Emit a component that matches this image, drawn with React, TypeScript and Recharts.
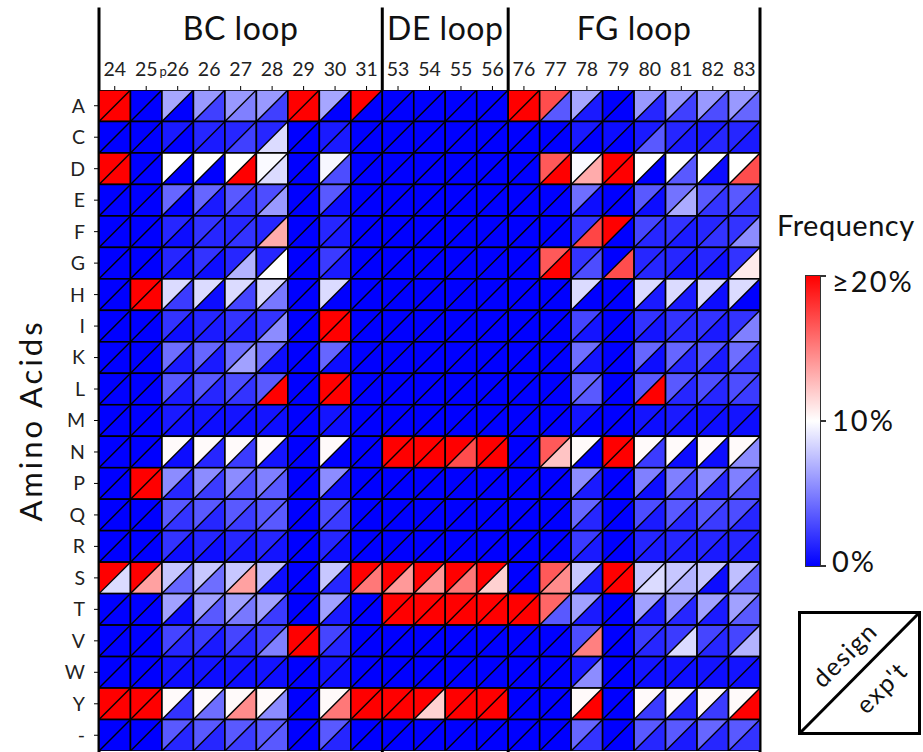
import React from "react";
import {
  ScatterChart,
  Scatter,
  XAxis,
  YAxis,
  ReferenceLine,
  ReferenceArea,
} from "recharts";

// residue positions along the three loops
const residues = [
  "24", "25", "p26", "26", "27", "28", "29", "30", "31",
  "53", "54", "55", "56",
  "76", "77", "78", "79", "80", "81", "82", "83",
];

const aminoAcids = [
  "A", "C", "D", "E", "F", "G", "H", "I", "K", "L", "M",
  "N", "P", "Q", "R", "S", "T", "V", "W", "Y", "-",
];

const loops = [
  { name: "BC loop", start: 0, end: 9 },
  { name: "DE loop", start: 9, end: 13 },
  { name: "FG loop", start: 13, end: 21 },
];

// frequency (%) in the designed library, one row per amino acid
const designFreq = [
  [20, 0, 6.5, 6, 6, 6, 20, 6.5, 20, 0, 0, 0, 0, 20, 17, 6.5, 0, 6, 6, 6, 6],
  [0, 0, 1, 1.5, 1.5, 1.5, 0, 1, 0, 0, 0, 0, 0, 0, 0, 1, 0.5, 1, 1.5, 1, 1.5],
  [20, 0, 10, 10, 10, 9.8, 0, 9.7, 0, 0, 0, 0, 0, 0, 16.5, 9.8, 20, 10, 10, 10, 10],
  [0, 0, 4, 4, 3.5, 3, 0, 3.5, 0, 0, 0, 0, 0, 0, 0, 4.3, 0, 3.5, 4.5, 3.5, 3.5],
  [0, 0, 1.5, 2, 1.5, 1.5, 0, 1.5, 0, 0, 0, 0, 0, 0, 0, 2, 20, 2.7, 2, 1.5, 2],
  [0, 0, 1.5, 2, 1.5, 1.5, 0, 2.3, 0, 0, 0, 0, 0, 0, 16.5, 2, 0, 1.5, 1.5, 1.5, 2],
  [0, 20, 8.6, 8.6, 8.6, 8.6, 0, 8.6, 0, 0, 0, 0, 0, 0, 0, 8.6, 0, 8.6, 8.6, 8.6, 8.6],
  [0, 0, 2, 1.5, 2, 2, 0, 20, 0, 0, 0, 0, 0, 0, 0, 2.7, 0, 2, 2, 2, 2],
  [0, 0, 4.3, 4, 4.3, 4.3, 0, 4, 0, 0, 0, 0, 0, 0, 0, 4.3, 0, 4, 4, 3.5, 4.3],
  [0, 0, 3.5, 3.5, 3, 3.5, 0, 20, 0, 0, 0, 0, 0, 0, 0, 4, 0, 3.5, 3.5, 3, 3],
  [0, 0, 1, 0.8, 0.8, 0.8, 0, 0.8, 0, 0, 0, 0, 0, 0, 0, 0.8, 0, 0.8, 1, 0.8, 0.8],
  [0, 0, 10.2, 10.2, 10.2, 10.2, 0, 10.2, 0, 20, 20, 20, 20, 0, 16.5, 10.2, 20, 10.2, 10.2, 10.2, 10.2],
  [0, 20, 5.5, 5.5, 5.5, 5, 0, 5.5, 0, 0, 0, 0, 0, 0, 0, 5.5, 0, 5, 5, 5.5, 5],
  [0, 0, 3.5, 3.5, 3.5, 3.5, 0, 3, 0, 0, 0, 0, 0, 0, 0, 4, 0, 3, 3.5, 3.5, 3],
  [0, 0, 2, 1.5, 1.5, 1.5, 0, 1.5, 0, 0, 0, 0, 0, 0, 0, 2.3, 0, 1.5, 1.5, 1.5, 1.5],
  [20, 20, 7.8, 7.8, 7.8, 7.5, 0, 7.8, 20, 20, 20, 20, 20, 0, 16.5, 7.8, 20, 7.8, 7.8, 7.8, 7.5],
  [0, 0, 6.3, 6.3, 6.3, 6.3, 0, 6.3, 0, 20, 20, 20, 20, 20, 16, 6.3, 0, 6.3, 6, 6.3, 6.3],
  [0, 0, 2.7, 2.3, 2.7, 2.7, 20, 2.7, 0, 0, 0, 0, 0, 0, 0, 3, 0, 2.3, 2.3, 2.7, 2.7],
  [0, 0, 0.8, 0.8, 0.8, 0.8, 0, 0.8, 0, 0, 0, 0, 0, 0, 0, 1, 0, 0.8, 0.8, 0.8, 0.8],
  [20, 20, 10.2, 10.2, 10.2, 10.2, 0, 10.2, 20, 20, 20, 20, 20, 0, 0, 10.2, 0, 10.2, 10.2, 10.2, 10.2],
  [0, 0, 3.5, 3.5, 3.5, 3.5, 0, 3.5, 0, 0, 0, 0, 0, 0, 0, 4, 0, 3.5, 3.5, 4, 3.5],
];

// frequency (%) observed experimentally
const exptFreq = [
  [20, 0, 0, 2.5, 5, 2.5, 20, 0, 0, 0, 0, 0, 0, 20, 3.5, 1, 0, 1.5, 2.5, 3, 4],
  [0, 0, 0, 1, 2.5, 8.6, 0, 1, 0, 0, 0, 0, 0, 0, 0, 0, 0, 3.5, 1, 1.5, 1],
  [20, 0, 0, 0, 20, 8.6, 0, 3, 0, 0, 0, 0, 0, 0, 20, 13.3, 20, 0, 3.5, 0.5, 17],
  [0, 0, 0, 1, 2, 6, 0, 0.5, 0, 0, 0, 0, 0, 0, 0, 0.5, 0, 0.5, 6.7, 2, 2],
  [0, 0, 0.5, 1.5, 2, 13.3, 0, 1, 0, 0, 0, 0, 0, 0, 0, 17.3, 0, 1.5, 1, 2, 5.5],
  [0, 0, 0.5, 0.5, 7, 10, 0, 1, 0, 0, 0, 0, 0, 0, 20, 3, 17, 1.5, 0.5, 0.5, 10.8],
  [0, 20, 2.3, 0.5, 2.7, 4.7, 0, 0, 0, 0, 0, 0, 0, 0, 0, 0, 0, 1, 1, 0.5, 0],
  [0, 0, 0.5, 1, 1, 5.5, 0, 20, 0, 0, 0, 0, 0, 0, 0, 0.8, 0, 0.8, 1.5, 1, 5],
  [0, 0, 1, 1, 6.3, 0.5, 0, 0.5, 0, 0, 0, 0, 0, 0, 0, 0.8, 0, 0.5, 1.5, 1, 2],
  [0, 0, 1, 1.5, 2, 20, 0, 20, 0, 0, 0, 0, 0, 0, 0, 3.5, 0, 20, 1.5, 1.5, 2.3],
  [0, 0, 0.5, 0.5, 0.5, 0.5, 0, 0.5, 0, 0, 0, 0, 0, 0, 0, 0, 0, 0.5, 0.5, 0.5, 0.5],
  [0, 0, 0.5, 1.5, 2.3, 0.8, 0, 0, 0, 20, 20, 17, 20, 0, 12.3, 0, 20, 2.3, 0.5, 0.5, 5.5],
  [0, 20, 1.5, 2.3, 3, 3.5, 0, 0.5, 0, 0, 0, 0, 0, 0, 0, 1, 0, 0.5, 2.3, 1.5, 3],
  [0, 0, 2, 1.5, 2.3, 3.5, 0, 2.3, 0, 0, 0, 0, 0, 0, 0, 1.5, 0, 1, 1.5, 2.3, 1.5],
  [0, 0, 0.5, 0.5, 0.8, 0.8, 0, 0.5, 0, 0, 0, 0, 0, 0, 0, 1, 0, 1, 1, 1, 1],
  [8.6, 13.7, 4, 4.3, 13.7, 0.5, 0, 1.5, 15.3, 14, 14, 15.3, 11.8, 0, 14.5, 1, 20, 8.6, 7, 0.5, 3.5],
  [0, 0, 0.5, 3.5, 4.7, 2.3, 0, 1, 0, 20, 20, 20, 20, 20, 3.5, 1, 0, 1, 1.5, 1, 3.5],
  [0, 0, 1.5, 1, 1.5, 5, 20, 1.5, 0, 0, 0, 0, 0, 0, 0, 15, 0, 1.5, 8.6, 1.5, 7],
  [0, 0, 0.5, 0.5, 0.5, 0.5, 0, 0.5, 0, 0, 0, 0, 0, 0, 0, 5.5, 0, 0.5, 0.5, 0.5, 0.5],
  [20, 20, 2, 4.3, 14.5, 5.5, 0, 15.3, 20, 20, 11.8, 20, 20, 0, 0, 20, 0, 2.3, 1.5, 2.3, 20],
  [0, 0, 1.5, 1.5, 2.3, 3.5, 0, 1.5, 0, 0, 0, 0, 0, 0, 0, 2, 0, 1.5, 1, 1.5, 2],
];

const legendLabels = ["≥20%", "10%", "0%"];

const FONT = "Lato, 'Noto Sans', sans-serif";
const W = 923;
const H = 752;
const LEFT = 99;
const TOP = 90;
const RIGHT = 163;
const BOTTOM = 1;
const CELL_W = (W - LEFT - RIGHT) / residues.length;
const CELL_H = (H - TOP - BOTTOM) / aminoAcids.length;

// blue (0%) -> white (10%) -> red (>=20%)
function freqColor(v: number) {
  const t = Math.max(0, Math.min(v, 20)) / 20;
  if (t <= 0.5) {
    const k = Math.round(255 * t * 2);
    return `rgb(${k},${k},255)`;
  }
  const k = Math.round(255 * (1 - (t - 0.5) * 2));
  return `rgb(255,${k},${k})`;
}

const cellData = aminoAcids.flatMap((aa, r) =>
  residues.map((res, c) => ({
    x: c + 0.5,
    y: r + 0.5,
    aa,
    res,
    design: designFreq[r][c],
    expt: exptFreq[r][c],
  }))
);

function SplitCell(props: any) {
  const { cx, cy, payload } = props;
  const x0 = cx - CELL_W / 2;
  const x1 = cx + CELL_W / 2;
  const y0 = cy - CELL_H / 2;
  const y1 = cy + CELL_H / 2;
  return (
    <g>
      <polygon points={`${x0},${y0} ${x1},${y0} ${x0},${y1}`} fill={freqColor(payload.design)} />
      <polygon points={`${x1},${y0} ${x1},${y1} ${x0},${y1}`} fill={freqColor(payload.expt)} />
      <rect x={x0} y={y0} width={CELL_W} height={CELL_H} fill="none" stroke="#000" strokeWidth={1.6} />
      <line x1={x0} y1={y1} x2={x1} y2={y0} stroke="#000" strokeWidth={1.4} />
    </g>
  );
}

function ResidueTick(props: any) {
  const { x, y, payload } = props;
  const label = residues[Math.floor(payload.value)];
  if (label.startsWith("p")) {
    return (
      <g>
        <text x={x - 11} y={y} textAnchor="end" fontSize={13} fill="#222" fontFamily={FONT}>p</text>
        <text x={x} y={y} textAnchor="middle" fontSize={19.5} fill="#222" fontFamily={FONT}>{label.slice(1)}</text>
      </g>
    );
  }
  return (
    <text x={x} y={y} textAnchor="middle" fontSize={19.5} fill="#222" fontFamily={FONT}>
      {label}
    </text>
  );
}

function ColorLegend() {
  const barTop = 275;
  const barH = 290;
  return (
    <>
      <div style={{ position: "absolute", left: 777, top: 207, fontSize: 29, letterSpacing: 0.5, color: "#111" }}>
        Frequency
      </div>
      <div
        style={{
          position: "absolute",
          left: 805,
          top: barTop,
          width: 14,
          height: barH,
          border: "1px solid #333",
          background: "linear-gradient(to bottom, rgb(255,0,0), rgb(255,255,255), rgb(0,0,255))",
        }}
      />
      {legendLabels.map((lab, i) => {
        const y = barTop + 1 + (barH * i) / (legendLabels.length - 1);
        return (
          <React.Fragment key={lab}>
            <div style={{ position: "absolute", left: 820, top: y - 1, width: 6, height: 1.5, background: "#333" }} />
            <div
              style={{
                position: "absolute",
                left: 832,
                top: y - 19 + (i === 0 ? 6 : i === 2 ? -4 : 0),
                fontSize: 29,
                letterSpacing: 2,
                color: "#111",
              }}
            >
              {lab}
            </div>
          </React.Fragment>
        );
      })}
      <svg style={{ position: "absolute", left: 797, top: 610 }} width={126} height={127}>
        <rect x={2.5} y={2.5} width={120} height={121} fill="#fff" stroke="#000" strokeWidth={3} />
        <line x1={2.5} y1={123.5} x2={122.5} y2={2.5} stroke="#000" strokeWidth={3} />
        <text x={54} y={51} fontSize={25} letterSpacing={1.5} textAnchor="middle" fontFamily={FONT} fill="#111" transform="rotate(-45 54 51)">
          design
        </text>
        <text x={91} y={84} fontSize={25} letterSpacing={1.5} textAnchor="middle" fontFamily={FONT} fill="#111" transform="rotate(-45 91 84)">
          exp't
        </text>
      </svg>
    </>
  );
}

export default function App() {
  return (
    <div
      style={{
        position: "absolute",
        left: 0,
        top: 0,
        width: W,
        height: H,
        overflow: "hidden",
        background: "#fff",
        fontFamily: FONT,
      }}
    >
      <ScatterChart width={W} height={H} margin={{ top: 0, right: RIGHT, bottom: BOTTOM, left: 0 }}>
        <XAxis
          type="number"
          dataKey="x"
          orientation="top"
          domain={[0, residues.length]}
          ticks={residues.map((_, i) => i + 0.5)}
          interval={0}
          height={TOP}
          axisLine={false}
          tickSize={4}
          tickMargin={10}
          tickLine={{ stroke: "#000" }}
          tick={<ResidueTick />}
          allowDataOverflow
        />
        <YAxis
          type="number"
          dataKey="y"
          domain={[0, aminoAcids.length]}
          reversed
          ticks={aminoAcids.map((_, i) => i + 0.5)}
          interval={0}
          width={LEFT}
          axisLine={false}
          tickSize={5}
          tickMargin={9}
          tickLine={{ stroke: "#000" }}
          tickFormatter={(v: number) => aminoAcids[Math.floor(v)]}
          tick={{ fontSize: 19.5, fill: "#222", fontFamily: FONT }}
          label={{
            value: "Amino Acids",
            angle: -90,
            position: "insideLeft",
            offset: 31,
            style: { textAnchor: "middle", fontSize: 31, letterSpacing: 3, fill: "#111", fontFamily: FONT },
          }}
          allowDataOverflow
        />
        <Scatter data={cellData} shape={<SplitCell />} isAnimationActive={false} />
        {loops.map((lp) => (
          <ReferenceArea
            key={lp.name}
            x1={lp.start}
            x2={lp.end}
            y1={-2.6}
            y2={-1.28}
            fill="none"
            stroke="none"
            ifOverflow="visible"
            label={{ value: lp.name, position: "center", fontSize: 32, letterSpacing: 0.5, fill: "#111", fontFamily: FONT }}
          />
        ))}
        {[0, 9, 13, 21].map((x) => (
          <ReferenceLine
            key={x}
            segment={[
              { x, y: -2.62 },
              { x, y: aminoAcids.length + 0.1 },
            ]}
            stroke="#000"
            strokeWidth={3}
            ifOverflow="visible"
          />
        ))}
      </ScatterChart>
      <ColorLegend />
    </div>
  );
}
